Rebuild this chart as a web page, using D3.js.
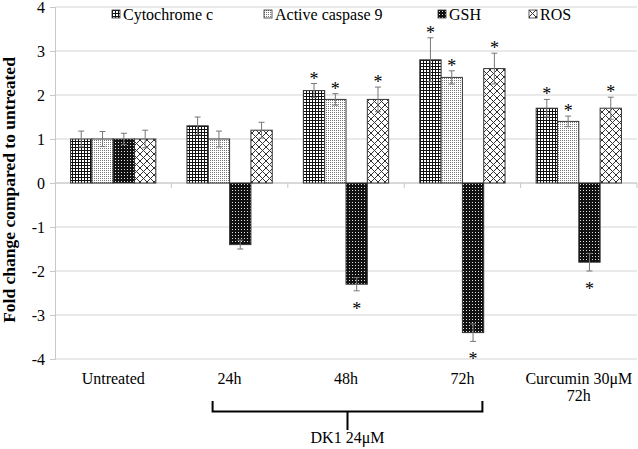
<!DOCTYPE html>
<html><head><meta charset="utf-8">
<script src="https://cdn.jsdelivr.net/npm/d3@7"></script>
<style>body{margin:0;background:#fff}svg{display:block}text{font-family:"Liberation Serif","Times New Roman",serif}</style>
</head><body><svg id="c" width="638" height="449"></svg>
<script>
const categories = ["Untreated","24h","48h","72h","Curcumin 30\u03bcM|72h"];
const series = ["Cytochrome c","Active caspase 9","GSH","ROS"];
const cytochrome = [1.0, 1.3, 2.1, 2.8, 1.7];
const caspase9   = [1.0, 1.0, 1.9, 2.4, 1.4];
const gsh        = [1.0, -1.4, -2.3, -3.4, -1.8];
const ros        = [1.0, 1.2, 1.9, 2.6, 1.7];
const errCytochrome = [0.18, 0.2, 0.16, 0.5, 0.2];
const errCaspase9   = [0.17, 0.18, 0.13, 0.15, 0.12];
const errGsh        = [0.13, 0.1, 0.15, 0.2, 0.2];
const errRos        = [0.2, 0.18, 0.28, 0.35, 0.25];
const sigCytochrome = [false,false,true,true,true];
const sigCaspase9   = [false,false,true,true,true];
const sigGsh        = [false,false,true,true,true];
const sigRos        = [false,false,true,true,true];
const yTicks = [-4,-3,-2,-1,0,1,2,3,4];
const bracketLabel = "DK1 24\u03bcM";
const bracketFrom = "24h", bracketTo = "72h";

const values = [cytochrome, caspase9, gsh, ros];
const errors = [errCytochrome, errCaspase9, errGsh, errRos];
const sigs = [sigCytochrome, sigCaspase9, sigGsh, sigRos];
const patIds = ["pCyto","pCasp","pGsh","pRos"];

const svg = d3.select("#c");
const defs = svg.append("defs");
// patterns
let p = defs.append("pattern").attr("id","pCyto").attr("patternUnits","userSpaceOnUse").attr("width",3).attr("height",3);
p.append("rect").attr("width",3).attr("height",3).attr("fill","#fff");
p.append("path").attr("d","M0 0.5H3M0.5 0V3").attr("stroke","#111").attr("stroke-width",1);
p = defs.append("pattern").attr("id","pCasp").attr("patternUnits","userSpaceOnUse").attr("width",2).attr("height",2);
p.append("rect").attr("width",2).attr("height",2).attr("fill","#fff");
p.append("rect").attr("width",1).attr("height",1).attr("fill","#777");
p = defs.append("pattern").attr("id","pGsh").attr("patternUnits","userSpaceOnUse").attr("width",3).attr("height",3);
p.append("rect").attr("width",3).attr("height",3).attr("fill","#111");
p.append("rect").attr("x",1).attr("y",1).attr("width",1).attr("height",1).attr("fill","#e0e0e0");
p = defs.append("pattern").attr("id","pRos").attr("patternUnits","userSpaceOnUse").attr("width",7).attr("height",7);
p.append("rect").attr("width",7).attr("height",7).attr("fill","#fff");
p.append("path").attr("d","M0 0L7 7M7 0L0 7").attr("stroke","#333").attr("stroke-width",1);

const mLeft = 55, mRight = 637, mTop = 7, mBottom = 359;
const x = d3.scaleBand().domain(categories).range([mLeft,mRight]).paddingInner(0).paddingOuter(0);
const xs = d3.scaleBand().domain(series).range([0,x.bandwidth()]).paddingInner(0).paddingOuter(0.73);
const y = d3.scaleLinear().domain([-4,4]).range([mBottom,mTop]);

// gridlines
svg.append("g").selectAll("line").data(yTicks).join("line")
  .attr("x1",mLeft).attr("x2",mRight).attr("y1",d=>y(d)).attr("y2",d=>y(d))
  .attr("stroke","#d4d4d4").attr("stroke-width",1);

// y axis
const yAxis = d3.axisLeft(y).tickValues(yTicks).tickSize(5).tickPadding(5).tickFormat(d=>String(d));
const ga = svg.append("g").attr("transform",`translate(${mLeft},0)`).call(yAxis);
ga.select(".domain").attr("stroke","#c8c8c8");
ga.selectAll(".tick line").attr("stroke","#c8c8c8");
ga.selectAll(".tick text").attr("font-size",16).attr("fill","#000").attr("font-family","Liberation Serif");

// x axis at zero
const gx = svg.append("g").attr("transform",`translate(0,${y(0)})`);
gx.append("line").attr("x1",mLeft).attr("x2",mRight).attr("stroke","#c8c8c8");
gx.selectAll("line.t").data(categories).join("line").attr("class","t")
  .attr("x1",d=>x(d)+x.bandwidth()).attr("x2",d=>x(d)+x.bandwidth())
  .attr("y1",0).attr("y2",5).attr("stroke","#c8c8c8");

// bars
series.forEach((s,si)=>{
  const g = svg.append("g");
  const data = categories.map((c,ci)=>({c, v: values[si][ci], e: errors[si][ci], sig: sigs[si][ci]}));
  g.selectAll("rect").data(data).join("rect")
    .attr("x",d=>x(d.c)+xs(s)).attr("width",xs.bandwidth())
    .attr("y",d=>y(Math.max(0,d.v))).attr("height",d=>Math.abs(y(d.v)-y(0)))
    .attr("fill",`url(#${patIds[si]})`).attr("stroke","#333").attr("stroke-width",1);
  const cx = d=>x(d.c)+xs(s)+xs.bandwidth()/2;
  g.selectAll("path.err").data(data).join("path").attr("class","err")
    .attr("d",d=>{const a=y(d.v+d.e), b=y(d.v-d.e), X=cx(d);
      return `M${X},${a}V${b}M${X-3},${a}H${X+3}M${X-3},${b}H${X+3}`;})
    .attr("stroke","#777").attr("stroke-width",1).attr("fill","none");
  g.selectAll("text.star").data(data.filter(d=>d.sig)).join("text").attr("class","star")
    .attr("x",cx).attr("text-anchor","middle").attr("font-size",18).attr("fill","#000")
    .attr("y",d=>d.v>=0 ? y(d.v+d.e)+1 : y(d.v-d.e)+24)
    .text("*");
});

// x labels
svg.append("g").selectAll("text").data(categories).join("text")
  .attr("x",d=>x(d)+x.bandwidth()/2).attr("y",384).attr("text-anchor","middle").attr("font-size",16)
  .each(function(d){
    const parts = d.split("|");
    d3.select(this).selectAll("tspan").data(parts).join("tspan")
      .attr("x",x(d)+x.bandwidth()/2).attr("dy",(t,i)=>i?17:0).text(t=>t);
  });

// bracket
const bx1 = x(bracketFrom)+x.bandwidth()/2 - 17, bx2 = x(bracketTo)+x.bandwidth()/2 + 20;
const bm = (bx1+bx2)/2;
svg.append("path").attr("d",`M${bx1},401V411.5H${bx2}V401M${bm},411.5V430`)
  .attr("stroke","#000").attr("stroke-width",2).attr("fill","none");
svg.append("text").attr("x",bm).attr("y",443).attr("text-anchor","middle").attr("font-size",16).text(bracketLabel);

// y label
svg.append("text").attr("transform","translate(15,190) rotate(-90)").attr("text-anchor","middle")
  .attr("font-size",17.5).attr("font-weight","bold").text("Fold change compared to untreated");

// legend
const legX = [112, 264, 438, 529];
const lg = svg.append("g").selectAll("g").data(series).join("g")
  .attr("transform",(d,i)=>`translate(${legX[i]},10)`);
lg.append("rect").attr("width",8).attr("height",8).attr("fill",(d,i)=>`url(#${patIds[i]})`).attr("stroke","#333").attr("stroke-width",0.8);
lg.append("text").attr("x",11).attr("y",10).attr("font-size",16).text(d=>d);
</script></body></html>
